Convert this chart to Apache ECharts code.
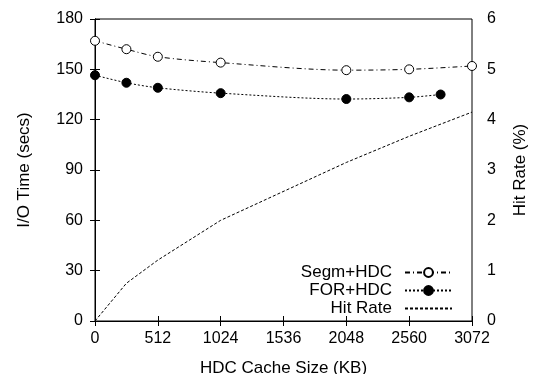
<!DOCTYPE html>
<html>
<head>
<meta charset="utf-8">
<script src="https://cdn.jsdelivr.net/npm/echarts@6/dist/echarts.min.js"></script>
<style>
  html, body { margin: 0; padding: 0; background: #fff; }
  #chart { width: 537px; height: 374px; }
</style>
</head>
<body>
<div id="chart"></div>
<script>
// cache size (KB) on the x axis
var segmSizes = [0, 256, 512, 1024, 2048, 2560, 3072];
var segmTime = [167, 162, 157.5, 154, 149.5, 150, 152];

var forSizes = [0, 256, 512, 1024, 2048, 2560, 2816];
var forTime = [146.5, 142, 139, 135.8, 132.3, 133.3, 135];

var hitSizes = [0, 256, 512, 1024, 2048, 2560, 3072];
var hitRate = [0, 0.75, 1.21, 2.0, 3.15, 3.67, 4.15];

var xTicks = [0, 512, 1024, 1536, 2048, 2560, 3072];

function pairs(xs, ys) {
  return xs.map(function (x, i) { return [x, ys[i]]; });
}

var chart = echarts.init(document.getElementById('chart'));
var font = 'Liberation Sans, Arial, sans-serif';

var option = {
  animation: false,
  backgroundColor: '#fff',
  textStyle: { fontFamily: font, color: '#000' },
  grid: {
    left: 95, right: 65, top: 19, bottom: 53,
    outerBoundsMode: 'none',
    containLabel: false,
    show: true, borderColor: '#000', borderWidth: 1
  },
  legend: {
    orient: 'vertical',
    right: 84,
    bottom: 57,
    padding: 0,
    align: 'right',
    itemWidth: 47,
    itemHeight: 11,
    itemGap: 1,
    textStyle: { fontSize: 17, fontFamily: font, color: '#000', width: 130, align: 'right', padding: [0, 8, 0, 0] },
    data: [
      { name: 'Segm+HDC' },
      { name: 'FOR+HDC' },
      { name: 'Hit Rate', itemStyle: { opacity: 0 } }
    ]
  },
  xAxis: [{
    type: 'value',
    min: 0, max: 3072, interval: 512,
    name: 'HDC Cache Size (KB)',
    nameLocation: 'middle',
    nameGap: 39,
    nameTextStyle: { fontSize: 17, fontFamily: font, color: '#000' },
    axisLine: { lineStyle: { color: '#000', width: 1 } },
    axisTick: { inside: true, length: 5, lineStyle: { color: '#000' } },
    axisLabel: {
      fontSize: 16, fontFamily: font, color: '#000', margin: 10,
      formatter: function (v) { return xTicks.indexOf(v) >= 0 ? String(v) : ''; }
    },
    splitLine: { show: false }
  }, {
    type: 'value',
    position: 'top',
    min: 0, max: 3072, interval: 512,
    axisLine: { lineStyle: { color: '#000', width: 1 } },
    axisTick: { inside: true, length: 5, lineStyle: { color: '#000' } },
    axisLabel: { show: false },
    splitLine: { show: false }
  }],
  yAxis: [{
    type: 'value',
    min: 0, max: 180, interval: 30,
    name: 'I/O Time (secs)',
    nameLocation: 'middle',
    nameGap: 62,
    nameTextStyle: { fontSize: 17, fontFamily: font, color: '#000' },
    axisLine: { show: true, lineStyle: { color: '#000', width: 1 } },
    axisTick: { show: true, inside: true, length: 5, lineStyle: { color: '#000' } },
    axisLabel: { fontSize: 16, fontFamily: font, color: '#000', margin: 12 },
    splitLine: { show: false }
  }, {
    type: 'value',
    position: 'right',
    min: 0, max: 6, interval: 1,
    name: 'Hit Rate (%)',
    nameLocation: 'middle',
    nameGap: 40,
    nameTextStyle: { fontSize: 17, fontFamily: font, color: '#000' },
    axisLine: { show: true, lineStyle: { color: '#000', width: 1 } },
    axisTick: { show: true, inside: true, length: 5, lineStyle: { color: '#000' } },
    axisLabel: { fontSize: 16, fontFamily: font, color: '#000', margin: 15 },
    splitLine: { show: false }
  }],
  series: [{
    name: 'Segm+HDC',
    type: 'line',
    xAxisIndex: 0, yAxisIndex: 0,
    smooth: 0.3,
    symbol: 'circle',
    symbolSize: 9,
    itemStyle: { color: '#fff', borderColor: '#000', borderWidth: 1 },
    lineStyle: { color: '#000', width: 1, type: [5, 3, 1, 3] },
    data: pairs(segmSizes, segmTime),
    z: 3
  }, {
    name: 'FOR+HDC',
    type: 'line',
    xAxisIndex: 0, yAxisIndex: 0,
    smooth: 0.3,
    symbol: 'circle',
    symbolSize: 9,
    itemStyle: { color: '#000', borderColor: '#000', borderWidth: 1 },
    lineStyle: { color: '#000', width: 1, type: [2, 2] },
    data: pairs(forSizes, forTime),
    z: 3
  }, {
    name: 'Hit Rate',
    type: 'line',
    xAxisIndex: 0, yAxisIndex: 1,
    showSymbol: false,
    symbol: 'none',
    lineStyle: { color: '#000', width: 1, type: [3, 2] },
    itemStyle: { color: '#000' },
    data: pairs(hitSizes, hitRate),
    z: 2
  }]
};

chart.setOption(option);
</script>
</body>
</html>
